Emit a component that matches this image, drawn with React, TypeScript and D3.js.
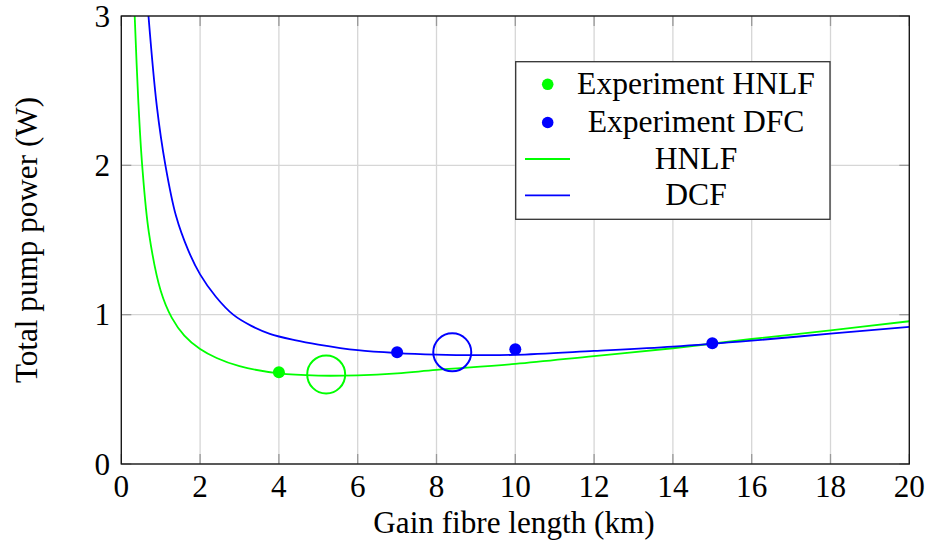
import React from "react";
import * as d3 from "d3";

// ---- data ----
const hnlfX = [0.34, 0.43, 0.53, 0.7, 1.0, 1.28, 1.6, 2.0, 2.42, 3.0, 4.0, 5.0, 6.0, 7.0, 8.0, 10.0, 12.0, 14.0, 16.0, 18.0, 20.0];
const hnlfY = [3.0, 2.44, 2.0, 1.55, 1.16, 0.98, 0.86, 0.77, 0.71, 0.655, 0.607, 0.592, 0.594, 0.607, 0.63, 0.67, 0.723, 0.775, 0.837, 0.895, 0.956];

const dcfX = [0.69, 0.9, 1.12, 1.39, 1.7, 2.0, 2.4, 2.84, 3.3, 3.77, 4.4, 5.0, 6.0, 7.0, 8.0, 9.0, 10.0, 12.0, 14.0, 16.0, 18.0, 20.0];
const dcfY = [3.0, 2.4, 2.0, 1.66, 1.43, 1.27, 1.12, 1.0, 0.925, 0.872, 0.83, 0.80, 0.762, 0.743, 0.733, 0.729, 0.731, 0.757, 0.786, 0.826, 0.873, 0.918];

const expHnlfX = [4];
const expHnlfY = [0.614];
const expDcfX = [7, 10, 15];
const expDcfY = [0.748, 0.768, 0.808];

const optHnlfX = [5.2];
const optHnlfY = [0.6];
const optDcfX = [8.4];
const optDcfY = [0.748];

const xTicks = [0, 2, 4, 6, 8, 10, 12, 14, 16, 18, 20];
const yTicks = [0, 1, 2, 3];

const legendLabels = ["Experiment HNLF", "Experiment DFC", "HNLF", "DCF"];

const GREEN = "#00ff00";
const BLUE = "#0000ff";
const FONT = "Liberation Serif, Times New Roman, serif";

export default function App() {
  const W = 928, H = 544;
  const left = 121.3, right = 909.3, top = 16, bottom = 464;
  const x = d3.scaleLinear().domain([0, 20]).range([left, right]);
  const y = d3.scaleLinear().domain([0, 3]).range([bottom, top]);

  const line = d3
    .line<[number, number]>()
    .x((d) => x(d[0]))
    .y((d) => y(d[1]))
    .curve(d3.curveCatmullRom.alpha(0.5));

  const hnlf = hnlfX.map((v, i) => [v, hnlfY[i]] as [number, number]);
  const dcf = dcfX.map((v, i) => [v, dcfY[i]] as [number, number]);

  const tickLen = 10;
  const tickColor = "#999999";
  const gridColor = "#d6d6d6";

  const lgX0 = 515.7, lgY0 = 61.7, lgX1 = 830, lgY1 = 219.3;
  const rowY = [84.3, 122.5, 159, 195.3];
  const markX = 547.7;
  const textX = 696;
  const ts: React.CSSProperties = { fontFamily: FONT, fontSize: 31.2 };
  const tsl: React.CSSProperties = { fontFamily: FONT, fontSize: 31.6 };

  return (
    <svg
      width={W}
      height={H}
      viewBox={`0 0 ${W} ${H}`}
      style={{ position: "absolute", left: 0, top: 0, background: "#fff" }}
    >
      <defs>
        <clipPath id="plotclip">
          <rect x={left} y={top} width={right - left} height={bottom - top} />
        </clipPath>
      </defs>
      <rect x={0} y={0} width={W} height={H} fill="#fff" />

      {/* grid */}
      {xTicks.map((t) => (
        <line key={"gx" + t} x1={x(t)} x2={x(t)} y1={top} y2={bottom} stroke={gridColor} strokeWidth={1.3} />
      ))}
      {yTicks.map((t) => (
        <line key={"gy" + t} x1={left} x2={right} y1={y(t)} y2={y(t)} stroke={gridColor} strokeWidth={1.3} />
      ))}

      {/* ticks inside on all sides */}
      {xTicks.map((t) => (
        <g key={"tx" + t}>
          <line x1={x(t)} x2={x(t)} y1={bottom} y2={bottom - tickLen} stroke={tickColor} strokeWidth={1.3} />
          <line x1={x(t)} x2={x(t)} y1={top} y2={top + tickLen} stroke={tickColor} strokeWidth={1.3} />
        </g>
      ))}
      {yTicks.map((t) => (
        <g key={"ty" + t}>
          <line x1={left} x2={left + tickLen} y1={y(t)} y2={y(t)} stroke={tickColor} strokeWidth={1.3} />
          <line x1={right} x2={right - tickLen} y1={y(t)} y2={y(t)} stroke={tickColor} strokeWidth={1.3} />
        </g>
      ))}

      {/* curves */}
      <g clipPath="url(#plotclip)">
        <path d={line(hnlf) || ""} fill="none" stroke={GREEN} strokeWidth={1.8} />
        <path d={line(dcf) || ""} fill="none" stroke={BLUE} strokeWidth={1.8} />
      </g>

      {/* optimum circles */}
      {optHnlfX.map((v, i) => (
        <circle key={"oh" + i} cx={x(v)} cy={y(optHnlfY[i])} r={19} fill="none" stroke={GREEN} strokeWidth={2} />
      ))}
      {optDcfX.map((v, i) => (
        <circle key={"od" + i} cx={x(v)} cy={y(optDcfY[i])} r={19} fill="none" stroke={BLUE} strokeWidth={2} />
      ))}

      {/* experiment points */}
      {expHnlfX.map((v, i) => (
        <circle key={"eh" + i} cx={x(v)} cy={y(expHnlfY[i])} r={6} fill={GREEN} />
      ))}
      {expDcfX.map((v, i) => (
        <circle key={"ed" + i} cx={x(v)} cy={y(expDcfY[i])} r={6} fill={BLUE} />
      ))}

      {/* axis box */}
      <rect x={left} y={top} width={right - left} height={bottom - top} fill="none" stroke="#111" strokeWidth={1.3} />

      {/* tick labels */}
      {xTicks.map((t) => (
        <text key={"lx" + t} x={x(t)} y={497.3} textAnchor="middle" style={ts} fill="#000">
          {t}
        </text>
      ))}
      {yTicks.map((t) => (
        <text key={"ly" + t} x={110} y={y(t) + 10.5} textAnchor="end" style={ts} fill="#000">
          {t}
        </text>
      ))}

      {/* axis labels */}
      <text x={514} y={532.5} textAnchor="middle" style={ts} fill="#000">
        Gain fibre length (km)
      </text>
      <text transform={`translate(37, 240) rotate(-90)`} textAnchor="middle" style={ts} fill="#000">
        Total pump power (W)
      </text>

      {/* legend */}
      <rect x={lgX0} y={lgY0} width={lgX1 - lgX0} height={lgY1 - lgY0} fill="#fff" stroke="#333" strokeWidth={1.3} />
      <circle cx={markX} cy={rowY[0]} r={5.8} fill={GREEN} />
      <circle cx={markX} cy={rowY[1]} r={5.8} fill={BLUE} />
      <line x1={525} x2={570} y1={rowY[2]} y2={rowY[2]} stroke={GREEN} strokeWidth={1.8} />
      <line x1={525} x2={570} y1={rowY[3]} y2={rowY[3]} stroke={BLUE} strokeWidth={1.8} />
      {legendLabels.map((l, i) => (
        <text key={"lg" + i} x={textX} y={rowY[i] + 9.8} textAnchor="middle" style={tsl} fill="#000">
          {l}
        </text>
      ))}
    </svg>
  );
}
